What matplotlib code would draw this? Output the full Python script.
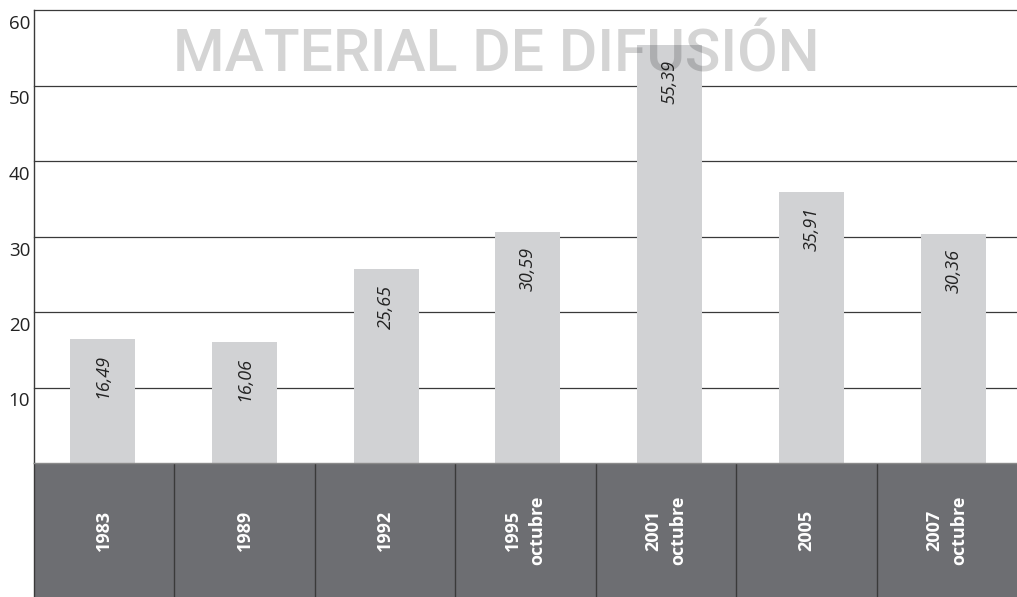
import matplotlib
matplotlib.use("Agg")
import matplotlib.pyplot as plt
from matplotlib.transforms import ScaledTranslation, blended_transform_factory

# ---- data ----
categories = ["1983", "1989", "1992", "1995\noctubre", "2001\noctubre", "2005", "2007\noctubre"]
values = [16.49, 16.06, 25.65, 30.59, 55.39, 35.91, 30.36]
value_labels = ["16,49", "16,06", "25,65", "30,59", "55,39", "35,91", "30,36"]
yticks = [10, 20, 30, 40, 50, 60]
ytick_labels = ["10", "20", "30", "40", "50", "60"]
watermark = "MATERIAL DE DIFUSIÓN"

W, H = 1017, 597
fig = plt.figure(figsize=(W / 100, H / 100), dpi=100)
fig.patch.set_facecolor("white")

FONT = ["Open Sans", "DejaVu Sans"]
BAR = "#d1d2d4"
PANEL = "#6d6e72"
LINE = "#3a3a3a"

left_px, right_px = 34, 1017
top_px, zero_px, bottom_px = 10, 463, 597

ax = fig.add_axes([left_px / W, (H - zero_px) / H, (right_px - left_px) / W, (zero_px - top_px) / H])
axp = fig.add_axes([left_px / W, 0, (right_px - left_px) / W, (H - zero_px) / H])

# main bar axes
ax.set_ylim(0, 60)
ax.set_xlim(-0.483, 6.449)
for s in ["top", "right", "bottom"]:
    ax.spines[s].set_visible(False)
ax.spines["left"].set_color(LINE)
ax.spines["left"].set_linewidth(1.0)
ax.set_xticks([])
ax.set_yticks([])

for yv in yticks:
    ax.axhline(yv, color=LINE, linewidth=0.9, zorder=1, clip_on=False)

ax.bar(range(len(values)), values, width=0.458, color=BAR, zorder=2)

for i, (v, lab) in enumerate(zip(values, value_labels)):
    ax.annotate(lab, xy=(i, v), xytext=(0, -11), textcoords="offset points",
                rotation=90, ha="center", va="top", fontsize=13, style="italic",
                family=FONT, color="#222222", zorder=4)

trans = blended_transform_factory(ax.transAxes, ax.transData)
for yv, lab in zip(yticks, ytick_labels):
    ax.text(-0.004, yv, lab, transform=trans + ScaledTranslation(0, -5 / 100, fig.dpi_scale_trans),
            ha="right", va="top", fontsize=13.5, family=FONT, color="#222222", clip_on=False)

# watermark
ax.text(173 / W, (H - 72) / H, watermark, transform=fig.transFigure,
        ha="left", va="baseline", fontsize=42.5, fontweight="medium",
        family=["Roboto", "DejaVu Sans"],
        color="black", alpha=0.17, zorder=5)

# category panel
axp.set_facecolor(PANEL)
axp.set_xlim(0, len(categories))
axp.set_ylim(0, 1)
axp.set_xticks([])
axp.set_yticks([])
for s in ["right", "bottom"]:
    axp.spines[s].set_visible(False)
axp.spines["top"].set_color("#8a8a8a")
axp.spines["top"].set_linewidth(1.0)
axp.spines["left"].set_color(LINE)
axp.spines["left"].set_linewidth(1.0)
for k in range(1, len(categories)):
    axp.axvline(k, color=LINE, linewidth=1.0)
for i, c in enumerate(categories):
    axp.text(i + 0.5, 0.5, c, rotation=90, ha="center", va="center", color="white",
             fontsize=13, fontweight="bold", family=FONT, linespacing=1.45,
             multialignment="center")

fig.savefig("out.png", dpi=100, facecolor="white")
